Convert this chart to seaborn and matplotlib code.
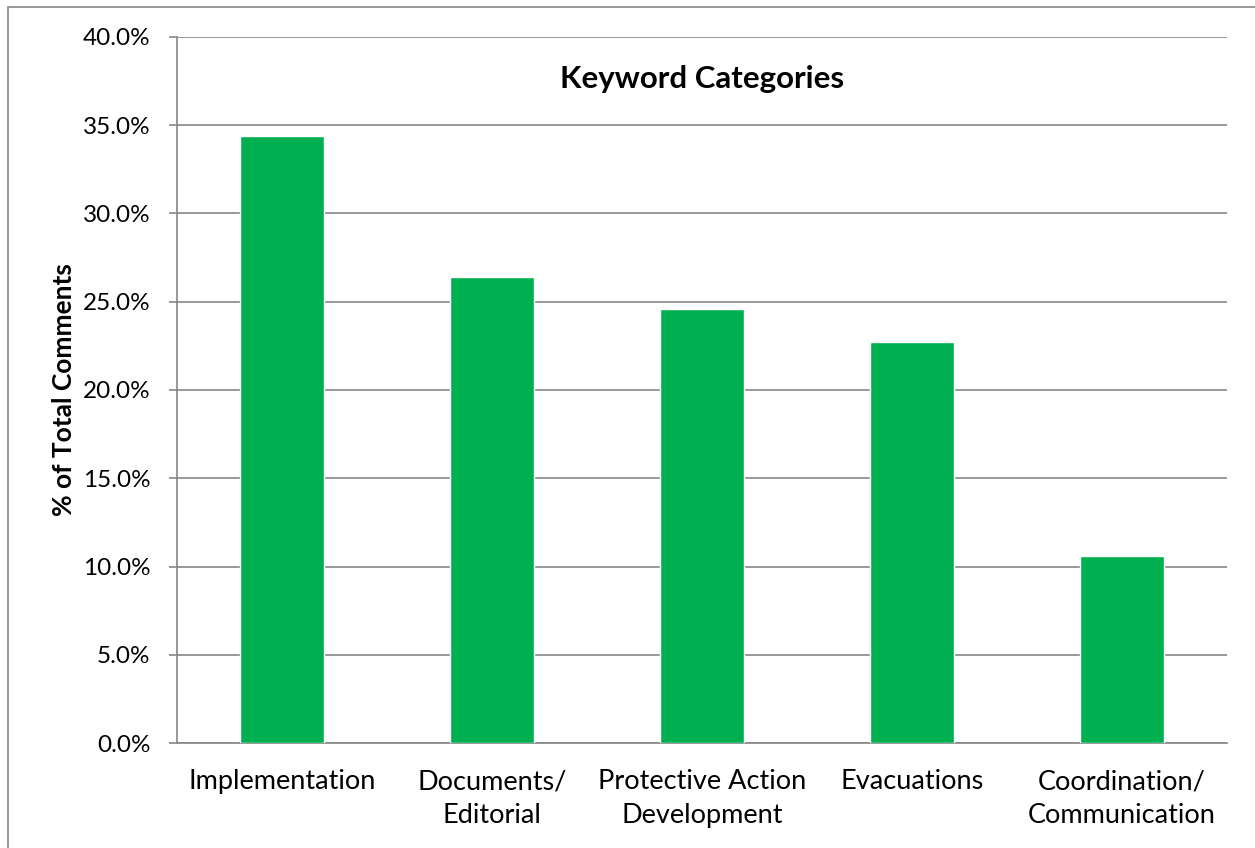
import pandas as pd
import matplotlib.pyplot as plt
import matplotlib.ticker as mticker
from matplotlib.patches import Rectangle
import seaborn as sns

# Data
categories = ["Implementation", "Documents/\nEditorial", "Protective Action\nDevelopment",
              "Evacuations", "Coordination/\nCommunication"]
pct_comments = [34.4, 26.4, 24.6, 22.7, 10.6]

sns.set_style("white")
plt.rcParams['font.family'] = ['Lato', 'DejaVu Sans']
plt.rcParams['text.color'] = 'black'
plt.rcParams['axes.labelcolor'] = 'black'
plt.rcParams['xtick.labelcolor'] = 'black'
plt.rcParams['ytick.labelcolor'] = 'black'

df = pd.DataFrame({"Category": categories, "Pct": pct_comments})

fig = plt.figure(figsize=(12.55, 8.48), dpi=100)
ax = fig.add_axes([177 / 1255, 1 - 743 / 848, (1227 - 177) / 1255, (743 - 37) / 848])

sns.barplot(data=df, x="Category", y="Pct", color="#00B050", saturation=1,
            width=0.4, ax=ax, zorder=3)

ax.set_ylim(0, 40)
ax.set_xlim(-0.5, len(categories) - 0.5)
ax.yaxis.set_major_locator(mticker.MultipleLocator(5))
ax.yaxis.set_major_formatter(mticker.FuncFormatter(lambda v, p: f"{v:.1f}%"))
ax.yaxis.grid(True, color="#868686", linewidth=1.2, zorder=0)

# tick marks sit between categories, labels stay centered
ax.set_xticks(range(len(categories)))
ax.set_xticklabels(categories, fontsize=19.5, linespacing=1.45)
ax.set_xticks([i - 0.5 for i in range(len(categories) + 1)], minor=True)
ax.tick_params(axis="x", which="major", length=0, pad=19)
ax.tick_params(axis="x", which="minor", direction="out", length=6, width=1.2, color="#868686")
ax.tick_params(axis="y", direction="out", length=6, width=1.2, color="#868686",
               labelsize=17.5, pad=13, left=True)

for side in ["top", "right"]:
    ax.spines[side].set_visible(False)
for side in ["left", "bottom"]:
    ax.spines[side].set_color("#868686")
    ax.spines[side].set_linewidth(1.2)

ax.set_xlabel("")
ax.set_ylabel("% of Total Comments", fontsize=19, fontweight="bold", labelpad=5)
ax.text(0.5, 0.94, "Keyword Categories", transform=ax.transAxes, ha="center", va="center",
        fontsize=22.5, fontweight="bold")

# outer chart border
fig.patches.append(Rectangle((8 / 1255, -0.01), 1.02, 1 - 7 / 848 + 0.01, transform=fig.transFigure,
                             fill=False, edgecolor="#868686", linewidth=1.2))

fig.savefig("out.png", dpi=100)
